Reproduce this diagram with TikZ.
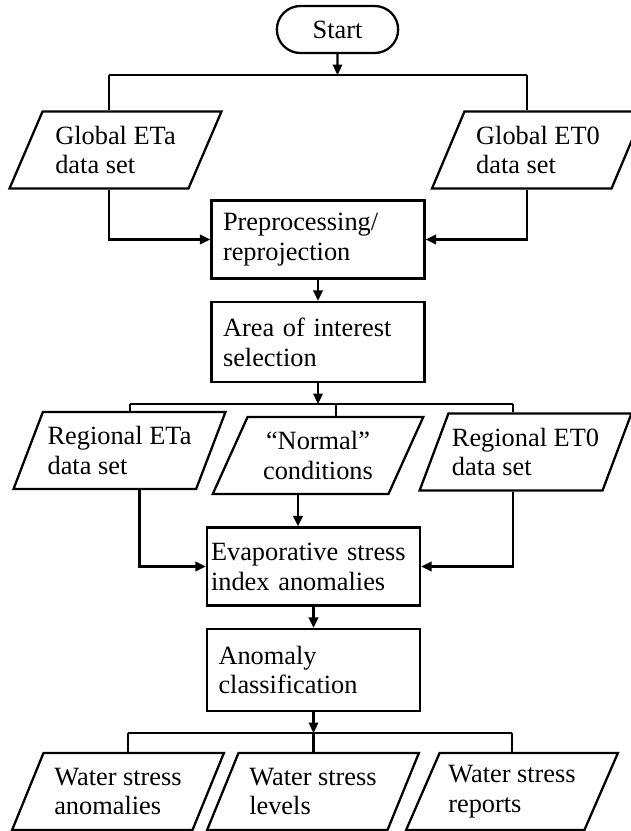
\documentclass[tikz,border=0pt]{standalone}
\usepackage{fontspec}
\setmainfont{Liberation Serif}
\usetikzlibrary{shapes.geometric, shapes.misc, arrows.meta, positioning, calc}

\begin{document}
\begin{tikzpicture}[
    every node/.style={font=\fontsize{15pt}{17pt}\selectfont},
    line width=1.3pt,
    term/.style={draw, rounded rectangle, minimum width=2.66cm, minimum height=0.94cm},
    proc/.style={draw, rectangle, minimum width=4.26cm, minimum height=1.56cm,
                 text width=3.8cm, align=left, inner sep=0pt},
    io/.style={draw, trapezium, trapezium left angle=62.5, trapezium right angle=117.5,
               trapezium stretches=true, minimum width=4.24cm, minimum height=1.54cm,
               align=left, inner sep=2pt},
    arr/.style={-{Triangle[length=2.1mm, width=1.9mm]}}
]
    \useasboundingbox (0,0) rectangle (12.62,-16.62);

    \node[term] (start) at (6.75, -0.59) {Start};

    \node[io] (gEta) at (2.31, -3.0) {Global ETa\\data set};
    \node[io] (gEt0) at (10.76, -3.0) {Global ET0\\data set};

    \node[proc] (pre) at (6.36, -4.79) {Preprocessing/\\reprojection};
    \node[proc, minimum height=1.6cm] (area) at (6.36, -6.84) {Area of interest\\selection};

    \node[io] (rEta) at (2.39, -9.01) {Regional ETa\\data set};
    \node[io, align=center] (norm) at (6.36, -9.11) {``Normal''\\conditions};
    \node[io] (rEt0) at (10.51, -9.04) {Regional ET0\\data set};

    \node[proc, text width=4.1cm] (evap) at (6.27, -11.33) {Evaporative stress\\index anomalies};
    \node[proc, minimum height=1.64cm] (anom) at (6.27, -13.4) {Anomaly\\classification};

    \node[io] (wsA) at (2.36, -15.83) {Water stress\\anomalies};
    \node[io] (wsL) at (6.26, -15.83) {Water stress\\levels};
    \node[io] (wsR) at (10.24, -15.83) {Water stress\\reports};

    % split after start
    \coordinate (jTop) at (6.75, -1.5);
    \coordinate (jTopL) at (2.18, -1.5);
    \coordinate (jTopR) at (10.54, -1.5);
    \draw[arr] (start) -- (jTop);
    \draw (jTopL) -- (jTopR);
    \draw (jTopL) -- (jTopL |- gEta.north);
    \draw (jTopR) -- (jTopR |- gEt0.north);
    \draw[arr] (jTopL |- gEta.south) |- (pre);
    \draw[arr] (jTopR |- gEt0.south) |- (pre);

    \draw[arr] (pre) -- (area);

    % split after area selection
    \coordinate (jMid) at (6.36, -8.08);
    \coordinate (jMidL) at (2.6, -8.08);
    \coordinate (jMidN) at (6.72, -8.08);
    \coordinate (jMidR) at (10.26, -8.08);
    \draw[arr] (area) -- (jMid);
    \draw (jMidL) -- (jMidR);
    \draw (jMidL) -- (jMidL |- rEta.north);
    \draw (jMidN) -- (jMidN |- norm.north);
    \draw (jMidR) -- (jMidR |- rEt0.north);
    \draw[arr] ([xshift=4mm]rEta.south) |- (evap);
    \draw[arr] (jMidR |- rEt0.south) |- (evap);
    \draw[arr] ([xshift=-4mm]norm.south) -- ([xshift=-4mm]norm.south |- evap.north);

    \draw[arr] (evap) -- (anom);

    % split after classification
    \coordinate (jBot) at (6.27, -14.66);
    \coordinate (jBotL) at (2.56, -14.66);
    \coordinate (jBotR) at (10.24, -14.66);
    \draw[arr] (anom) -- (jBot);
    \draw (jBotL) -- (jBotR);
    \draw (jBotL) -- (jBotL |- wsA.north);
    \draw (jBot) -- (jBot |- wsL.north);
    \draw (jBotR) -- (jBotR |- wsR.north);
\end{tikzpicture}
\end{document}
